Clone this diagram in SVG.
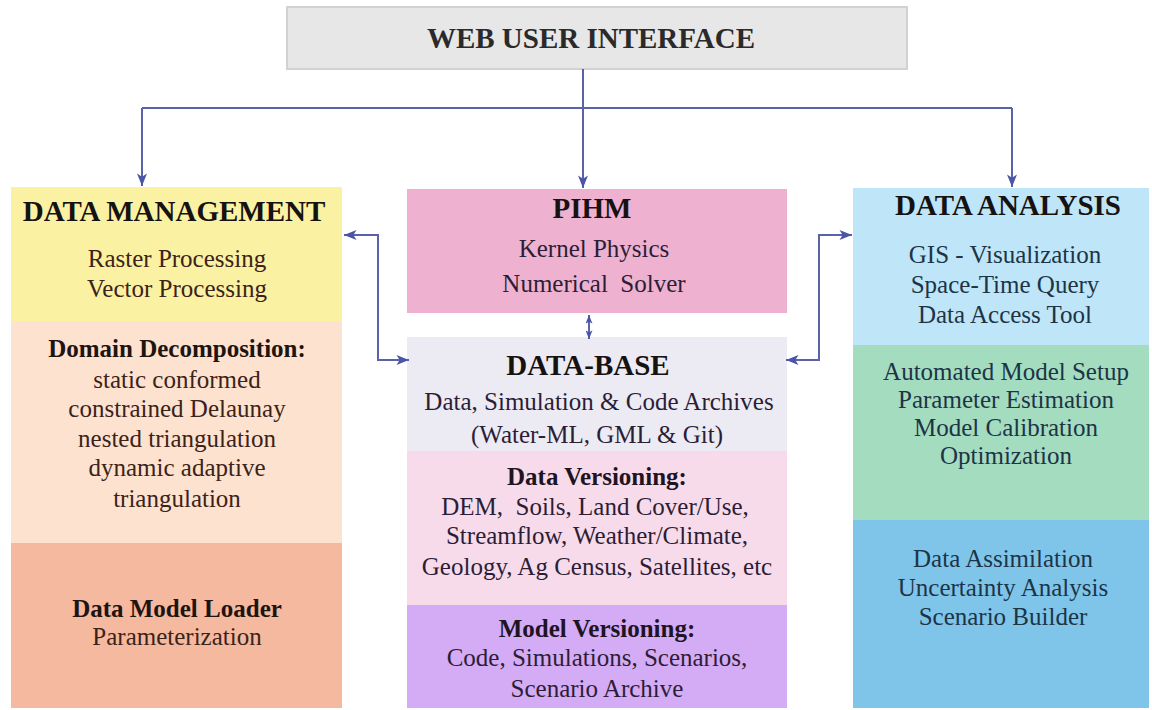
<svg xmlns="http://www.w3.org/2000/svg" width="1152" height="710" viewBox="0 0 1152 710">
<defs>
<marker id="ah" viewBox="0 0 10 8" refX="10" refY="4" markerWidth="13" markerHeight="10" markerUnits="userSpaceOnUse" orient="auto-start-reverse">
<path d="M0,0 L10,4 L0,8 L2.5,4 z" fill="#4b55a8"/>
</marker>
<marker id="ahs" viewBox="0 0 10 8" refX="10" refY="4" markerWidth="9" markerHeight="7" markerUnits="userSpaceOnUse" orient="auto-start-reverse">
<path d="M0,0 L10,4 L0,8 L2.5,4 z" fill="#4b55a8"/>
</marker>
</defs>
<style>
text{font-family:"Liberation Serif","Times New Roman",serif;text-anchor:middle;}
.hd{font-size:29px;font-weight:bold;fill:#161212;}
.sh{font-size:25px;font-weight:bold;}
.bd{font-size:25px;}
.l{fill:#3b2319;}
.m{fill:#2c1d36;}
.r{fill:#1d3446;}
.cn{fill:none;stroke:#5a62a8;stroke-width:2;}
</style>
<rect width="1152" height="710" fill="#ffffff"/>

<g id="web-ui">
<rect x="287" y="7" width="620" height="62" fill="#e7e7e7" stroke="#d2d2d2" stroke-width="2"/>
<text x="591" y="48" class="hd" style="fill:#2a2a2a">WEB USER INTERFACE</text>
</g>

<g id="data-management">
<rect x="11" y="187" width="331" height="134" fill="#fbf1a3"/>
<rect x="11" y="321" width="331" height="222" fill="#fde2cf"/>
<rect x="11" y="543" width="331" height="165" fill="#f5b9a0"/>
<text x="174" y="221" class="hd">DATA MANAGEMENT</text>
<text x="177" y="267" class="bd l">Raster Processing</text>
<text x="177" y="297" class="bd l">Vector Processing</text>
<text x="177" y="357" class="sh" style="fill:#1e1410">Domain Decomposition:</text>
<text x="177" y="388" class="bd l">static conformed</text>
<text x="177" y="417" class="bd l">constrained Delaunay</text>
<text x="177" y="447" class="bd l">nested triangulation</text>
<text x="177" y="476" class="bd l">dynamic adaptive</text>
<text x="177" y="507" class="bd l">triangulation</text>
<text x="177" y="617" class="sh" style="fill:#1e1410">Data Model Loader</text>
<text x="177" y="645" class="bd l">Parameterization</text>
</g>

<g id="pihm">
<rect x="407" y="189" width="380" height="124" fill="#eeb2d0"/>
<text x="592" y="218" class="hd">PIHM</text>
<text x="594" y="257" class="bd m">Kernel Physics</text>
<text x="594" y="292" class="bd m" xml:space="preserve">Numerical  Solver</text>
</g>

<g id="data-base">
<rect x="407" y="337" width="380" height="114" fill="#eceaf3"/>
<rect x="407" y="451" width="380" height="154" fill="#f7dbea"/>
<rect x="407" y="605" width="380" height="103" fill="#d4abf5"/>
<text x="588" y="375" class="hd">DATA-BASE</text>
<text x="599" y="410" class="bd m">Data, Simulation &amp; Code Archives</text>
<text x="597" y="443" class="bd m">(Water-ML, GML &amp; Git)</text>
<text x="597" y="485" class="sh" style="fill:#1e1422">Data Versioning:</text>
<text x="595" y="515" class="bd m" xml:space="preserve">DEM,  Soils, Land Cover/Use,</text>
<text x="597" y="544" class="bd m">Streamflow, Weather/Climate,</text>
<text x="597" y="575" class="bd m">Geology, Ag Census, Satellites, etc</text>
<text x="597" y="637" class="sh" style="fill:#1e1422">Model Versioning:</text>
<text x="597" y="666" class="bd m">Code, Simulations, Scenarios,</text>
<text x="597" y="697" class="bd m">Scenario Archive</text>
</g>

<g id="data-analysis">
<rect x="853" y="188" width="296" height="157" fill="#bee6f8"/>
<rect x="853" y="345" width="296" height="175" fill="#a4dcc0"/>
<rect x="853" y="520" width="296" height="188" fill="#7fc5ea"/>
<text x="1008" y="215" class="hd">DATA ANALYSIS</text>
<text x="1005" y="263" class="bd r">GIS - Visualization</text>
<text x="1005" y="293" class="bd r">Space-Time Query</text>
<text x="1005" y="323" class="bd r">Data Access Tool</text>
<text x="1006" y="380" class="bd r">Automated Model Setup</text>
<text x="1006" y="408" class="bd r">Parameter Estimation</text>
<text x="1006" y="436" class="bd r">Model Calibration</text>
<text x="1006" y="464" class="bd r">Optimization</text>
<text x="1003" y="567" class="bd r">Data Assimilation</text>
<text x="1003" y="596" class="bd r">Uncertainty Analysis</text>
<text x="1003" y="625" class="bd r">Scenario Builder</text>
</g>

<g id="connectors">
<path class="cn" d="M583,69 V188" marker-end="url(#ah)"/>
<path class="cn" d="M142,108 H1012"/>
<path class="cn" d="M142,108 V186" marker-end="url(#ah)"/>
<path class="cn" d="M1012,108 V187" marker-end="url(#ah)"/>
<path class="cn" d="M344,235 H378 V360 H409" marker-start="url(#ah)" marker-end="url(#ah)"/>
<path class="cn" d="M852,235 H819 V360 H786" marker-start="url(#ah)" marker-end="url(#ah)"/>
<path class="cn" d="M589,315 V339" marker-start="url(#ahs)" marker-end="url(#ahs)"/>
</g>
</svg>
